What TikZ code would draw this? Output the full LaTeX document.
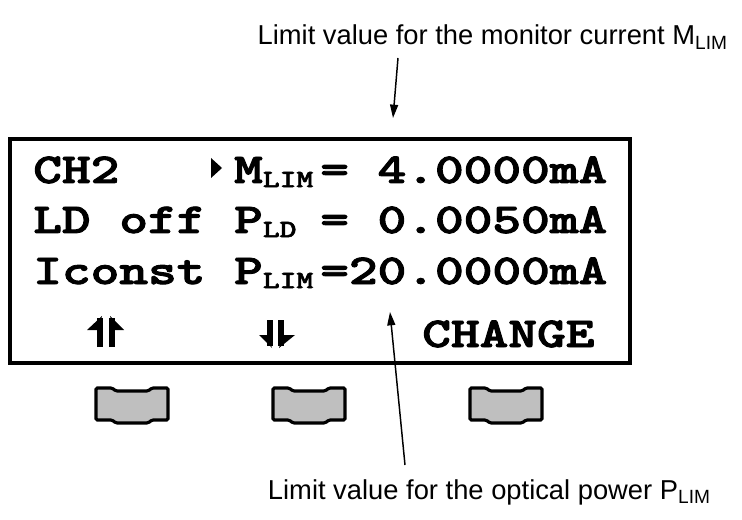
\documentclass[tikz,border=0pt]{standalone}
\usepackage{fontspec}
\usepackage{graphicx}
\setmainfont{Liberation Sans}
\newfontfamily\lcdfont{lmmonolt10-bold}[Extension=.otf, FakeBold=2]
\usetikzlibrary{arrows.meta,positioning,calc}

% one display line, squeezed to the cell height of the panel
\newcommand{\lcdline}[1]{\scalebox{1}[0.78]{#1}}
% subscript on the display, two cells wide
\newcommand{\lcdsub}[1]{\raisebox{-4pt}{\makebox[1.05em][l]{\fontsize{24pt}{24pt}\selectfont #1}}}

\tikzset{
  softkey/.pic={
    \draw[line width=2.4pt, fill=gray!50, rounded corners=1pt]
      (0,0) -- (16,0) -- (20,3) -- (52,3) -- (56,0) -- (72,0) -- (72,32)
      -- (56,32) -- (52,35) -- (20,35) -- (16,32) -- (0,32) -- cycle;
  }
}

\begin{document}
\begin{tikzpicture}[x=0.75pt, y=-0.75pt,
  lcd/.style={font=\lcdfont\fontsize{41pt}{41pt}\selectfont, inner sep=0pt, anchor=base west},
  harp/.style={line width=4pt},
  note/.style={font=\fontsize{20.5pt}{24pt}\selectfont, inner sep=0pt, anchor=base east},
  pointer/.style={-{Triangle[length=10pt, width=6pt]}, line width=1.1pt}]
  \useasboundingbox (0,0) rectangle (742,520);

  % display
  \draw[line width=2.3pt] (10,139) rectangle (630,363);
  \node[lcd] (row1) at (33,183) {\lcdline{CH2~~~~M\lcdsub{LIM}=~4.0000mA}};
  \node[lcd] (row2) at (33,233) {\lcdline{LD~off~P\lcdsub{LD}=~0.0050mA}};
  \node[lcd] (row3) at (33,284) {\lcdline{Iconst~P\lcdsub{LIM}=20.0000mA}};
  \node[lcd] (change) at (422,347) {\lcdline{CHANGE}};
  \fill (211,158) -- (222,168) -- (211,178) -- cycle;

  % up and down harpoons
  \draw[harp] (100,347) -- (100,318);
  \fill (102,316) -- (87,330) -- (98,330) -- cycle;
  \draw[harp] (112,347) -- (112,318);
  \fill (110,316) -- (124,330) -- (114,330) -- cycle;
  \draw[harp] (270,320) -- (270,346);
  \fill (272,348) -- (259,335) -- (268,335) -- cycle;
  \draw[harp] (281,320) -- (281,346);
  \fill (279,348) -- (295,335) -- (283,335) -- cycle;

  % soft keys
  \pic at (96,388) {softkey};
  \pic at (273,388) {softkey};
  \pic at (470,388) {softkey};

  % callouts
  \node[note] (mlim) at (728,45) {Limit value for the monitor current M\textsubscript{LIM}};
  \node[note] (plim) at (711,499) {Limit value for the optical power P\textsubscript{LIM}};
  \coordinate (mtail) at (398,58);
  \coordinate (mhead) at (393,118);
  \coordinate (ptail) at (405,465);
  \coordinate (phead) at (390,312);
  \draw[pointer] (mtail) -- (mhead);
  \draw[pointer] (ptail) -- (phead);
\end{tikzpicture}
\end{document}
